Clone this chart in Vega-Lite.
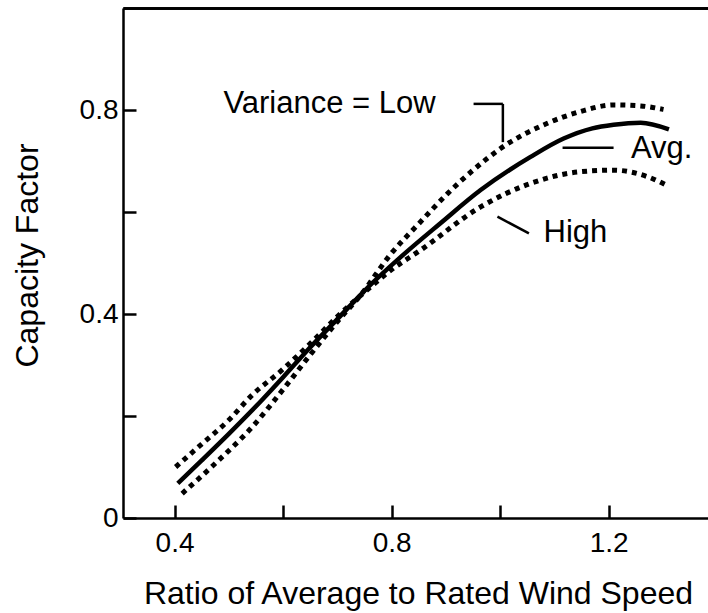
{
  "$schema": "https://vega.github.io/schema/vega-lite/v6.json",
  "width": 585,
  "height": 510,
  "autosize": {"type": "none"},
  "padding": {"left": 123, "top": 8, "right": 0, "bottom": 95},
  "background": "white",
  "config": {
    "view": {"stroke": null},
    "font": "Liberation Sans",
    "axis": {
      "grid": false,
      "domainColor": "black",
      "domainWidth": 2.5,
      "tickColor": "black",
      "tickWidth": 2.5,
      "tickSize": -13,
      "labelColor": "black",
      "labelFont": "Liberation Sans",
      "labelFontSize": 28,
      "titleColor": "black",
      "titleFont": "Liberation Sans",
      "titleFontSize": 32,
      "titleFontWeight": "normal"
    },
    "axisTop": {"labels": false, "ticks": false, "domainWidth": 2.5}
  },
  "datasets": {
    "curves": [
      {"series": "Avg.", "ratio": 0.406, "cf": 0.068},
      {"series": "Avg.", "ratio": 0.45, "cf": 0.113},
      {"series": "Avg.", "ratio": 0.5, "cf": 0.165},
      {"series": "Avg.", "ratio": 0.559, "cf": 0.229},
      {"series": "Avg.", "ratio": 0.6, "cf": 0.276},
      {"series": "Avg.", "ratio": 0.645, "cf": 0.329},
      {"series": "Avg.", "ratio": 0.7, "cf": 0.39},
      {"series": "Avg.", "ratio": 0.756, "cf": 0.452},
      {"series": "Avg.", "ratio": 0.817, "cf": 0.512},
      {"series": "Avg.", "ratio": 0.89, "cf": 0.578},
      {"series": "Avg.", "ratio": 0.964, "cf": 0.643},
      {"series": "Avg.", "ratio": 1.056, "cf": 0.708},
      {"series": "Avg.", "ratio": 1.117, "cf": 0.744},
      {"series": "Avg.", "ratio": 1.17, "cf": 0.764},
      {"series": "Avg.", "ratio": 1.209, "cf": 0.771},
      {"series": "Avg.", "ratio": 1.259, "cf": 0.775},
      {"series": "Avg.", "ratio": 1.311, "cf": 0.762},
      {"series": "Low", "ratio": 0.414, "cf": 0.048},
      {"series": "Low", "ratio": 0.47, "cf": 0.102},
      {"series": "Low", "ratio": 0.546, "cf": 0.182},
      {"series": "Low", "ratio": 0.6, "cf": 0.252},
      {"series": "Low", "ratio": 0.65, "cf": 0.32},
      {"series": "Low", "ratio": 0.7, "cf": 0.385},
      {"series": "Low", "ratio": 0.745, "cf": 0.44},
      {"series": "Low", "ratio": 0.798, "cf": 0.517},
      {"series": "Low", "ratio": 0.85, "cf": 0.577},
      {"series": "Low", "ratio": 0.903, "cf": 0.636},
      {"series": "Low", "ratio": 0.95, "cf": 0.682},
      {"series": "Low", "ratio": 1.0, "cf": 0.724},
      {"series": "Low", "ratio": 1.087, "cf": 0.774},
      {"series": "Low", "ratio": 1.148, "cf": 0.797},
      {"series": "Low", "ratio": 1.209, "cf": 0.81},
      {"series": "Low", "ratio": 1.259, "cf": 0.808},
      {"series": "Low", "ratio": 1.301, "cf": 0.801},
      {"series": "High", "ratio": 0.402, "cf": 0.1},
      {"series": "High", "ratio": 0.45, "cf": 0.145},
      {"series": "High", "ratio": 0.5, "cf": 0.192},
      {"series": "High", "ratio": 0.54, "cf": 0.238},
      {"series": "High", "ratio": 0.6, "cf": 0.292},
      {"series": "High", "ratio": 0.65, "cf": 0.342},
      {"series": "High", "ratio": 0.7, "cf": 0.395},
      {"series": "High", "ratio": 0.76, "cf": 0.452},
      {"series": "High", "ratio": 0.8, "cf": 0.487},
      {"series": "High", "ratio": 0.853, "cf": 0.525},
      {"series": "High", "ratio": 0.964, "cf": 0.61},
      {"series": "High", "ratio": 1.056, "cf": 0.656},
      {"series": "High", "ratio": 1.148, "cf": 0.679},
      {"series": "High", "ratio": 1.209, "cf": 0.682},
      {"series": "High", "ratio": 1.272, "cf": 0.669},
      {"series": "High", "ratio": 1.311, "cf": 0.65}
    ],
    "leaders": [
      {"x1": 0.951, "y1": 0.812, "x2": 1.005, "y2": 0.812},
      {"x1": 1.005, "y1": 0.812, "x2": 1.005, "y2": 0.737},
      {"x1": 1.115, "y1": 0.726, "x2": 1.209, "y2": 0.726},
      {"x1": 0.995, "y1": 0.591, "x2": 1.053, "y2": 0.558}
    ],
    "labels": [
      {"label": "Variance = Low", "x": 0.49, "y": 0.812},
      {"label": "Avg.", "x": 1.241, "y": 0.724},
      {"label": "High", "x": 1.08, "y": 0.559}
    ]
  },
  "layer": [
    {
      "data": {"name": "curves"},
      "transform": [{"filter": "datum.series == 'Avg.'"}],
      "mark": {"type": "line", "interpolate": "monotone", "color": "black", "strokeWidth": 4.5},
      "encoding": {
        "x": {
          "field": "ratio", "type": "quantitative",
          "scale": {"domain": [0.305, 1.383], "nice": false, "zero": false},
          "axis": {
            "orient": "bottom",
            "values": [0.4, 0.6, 0.8, 1.0, 1.2],
            "format": ".1f",
            "labelExpr": "round(datum.value*10) % 4 == 0 ? datum.label : ''",
            "labelPadding": 24,
            "title": "Ratio of Average to Rated Wind Speed",
            "titleBaseline": "alphabetic",
            "titleY": 85,
            "titleX": 295
          }
        },
        "y": {
          "field": "cf", "type": "quantitative",
          "title": "Capacity Factor",
          "scale": {"domain": [0, 1], "nice": false},
          "axis": {
            "values": [0, 0.2, 0.4, 0.6, 0.8],
            "labelExpr": "datum.value == 0 ? '0' : (round(datum.value*10) % 4 == 0 ? format(datum.value, '.1f') : '')",
            "labelPadding": 18,
            "title": "Capacity Factor",
            "titleAngle": -90,
            "titleBaseline": "alphabetic",
            "titleAlign": "center",
            "titleX": -86,
            "titleY": 247
          }
        }
      }
    },
    {
      "data": {"name": "curves"},
      "transform": [{"filter": "datum.series != 'Avg.'"}],
      "mark": {"type": "line", "interpolate": "monotone", "color": "black", "strokeWidth": 5, "strokeDash": [5, 5], "strokeCap": "butt"},
      "encoding": {
        "x": {"field": "ratio", "type": "quantitative", "title": null},
        "y": {"field": "cf", "type": "quantitative"},
        "detail": {"field": "series"}
      }
    },
    {
      "data": {"name": "leaders"},
      "mark": {"type": "rule", "color": "black", "strokeWidth": 2.5},
      "encoding": {
        "x": {"field": "x1", "type": "quantitative", "title": null, "axis": {"orient": "top", "labels": false, "ticks": false, "title": null}},
        "y": {"field": "y1", "type": "quantitative"},
        "x2": {"field": "x2"},
        "y2": {"field": "y2"}
      }
    },
    {
      "data": {"name": "labels"},
      "mark": {"type": "text", "align": "left", "baseline": "middle", "fontSize": 31, "font": "Liberation Sans", "color": "black"},
      "encoding": {
        "x": {"field": "x", "type": "quantitative", "title": null},
        "y": {"field": "y", "type": "quantitative"},
        "text": {"field": "label"}
      }
    }
  ]
}
